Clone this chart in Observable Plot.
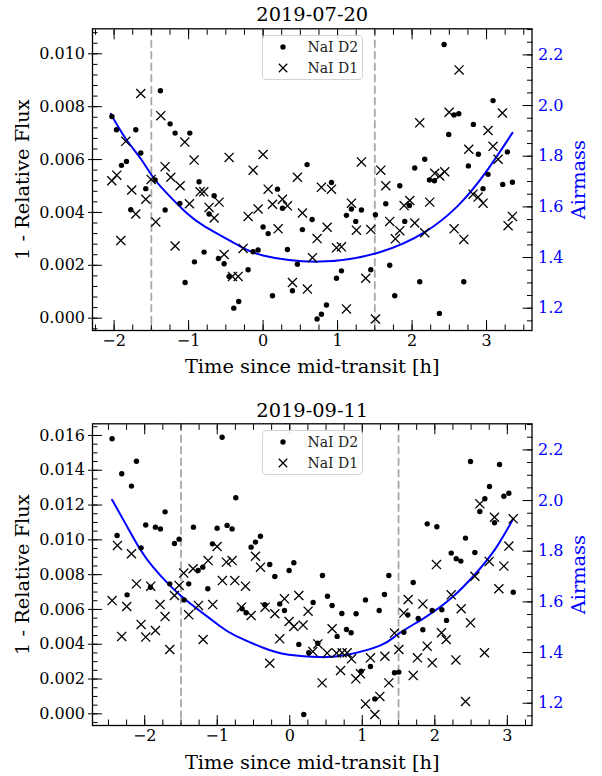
<!DOCTYPE html>
<html><head><meta charset="utf-8">
<script src="https://cdn.jsdelivr.net/npm/d3@7"></script>
<script src="https://cdn.jsdelivr.net/npm/@observablehq/plot@0.6"></script>
<style>
body{margin:0;background:#fff;}
#wrap{position:relative;width:602px;height:776px;font-family:"DejaVu Serif",serif;}
#wrap svg{display:block;}
#wrap svg, #wrap svg text{font-family:"DejaVu Serif",serif !important;}
.legend{position:absolute;background:rgba(255,255,255,0.85);border:1px solid #d4d4d4;border-radius:4px;box-sizing:border-box;}
.legend .row{position:absolute;left:0;height:20px;width:100%;}
.legend .lab{position:absolute;left:45px;top:0;font-family:"DejaVu Serif",serif;font-size:14px;line-height:20px;color:#222;white-space:nowrap;}
.legend svg{position:absolute;left:12px;top:3px;}
</style></head><body><div id="wrap"></div>
<script>
// ---------- Panel 1: 2019-07-20 ----------
const title1 = "2019-07-20";
const p1D2Time = [-2.03,-1.968,-1.901,-1.834,-1.776,-1.709,-1.642,-1.575,-1.449,-1.378,-1.315,-1.248,-1.181,-1.118,-1.047,-0.984,-0.921,-0.859,-0.792,-0.725,-0.657,-0.599,-0.523,-0.456,-0.393,-0.327,-0.201,-0.134,-0.067,0.0,0.068,0.126,0.193,0.26,0.327,0.394,0.461,0.528,0.591,0.658,0.725,0.783,0.851,0.918,0.985,1.052,1.119,1.186,1.244,1.32,1.446,1.508,1.647,1.7,1.767,1.835,1.902,1.964,2.036,2.103,2.17,2.233,2.3,2.367,2.43,2.492,2.564,2.627,2.694,2.756,2.823,2.89,2.953,3.02,3.087,3.217,3.28,3.347];
const p1D2Flux = [0.00763,0.00713,0.00578,0.00593,0.0041,0.00713,0.00625,0.0049,0.00523,0.0086,0.00409,0.00735,0.007,0.00434,0.00135,0.007,0.00213,0.00516,0.0025,0.00394,0.00463,0.00226,0.00206,0.00158,0.00038,0.00063,0.00183,0.00251,0.00258,0.00345,0.0032,0.00085,0.00488,0.00416,0.0026,0.00104,0.00204,0.00335,0.00581,0.00373,-0.00003,0.00015,0.0005,0.00513,0.00151,0.00179,0.00389,0.00413,0.00366,0.00409,0.00183,0.00391,0.00433,0.002,0.00085,0.00501,0.00366,0.00426,0.00568,0.00138,0.00601,0.00523,0.0052,0.00018,0.01035,0.00695,0.00769,0.00773,0.00138,0.00576,0.00733,0.0062,0.0049,0.00544,0.00823,0.00506,0.00629,0.00514];
const p1D1Time = [-2.031,-1.964,-1.91,-1.843,-1.763,-1.709,-1.642,-1.575,-1.503,-1.44,-1.373,-1.315,-1.239,-1.181,-1.114,-1.051,-0.989,-0.926,-0.845,-0.796,-0.725,-0.657,-0.59,-0.523,-0.456,-0.411,-0.335,-0.268,-0.201,-0.134,-0.067,0.0,0.068,0.126,0.202,0.26,0.327,0.394,0.461,0.528,0.595,0.663,0.725,0.783,0.86,0.918,0.985,1.052,1.119,1.186,1.253,1.32,1.378,1.446,1.508,1.58,1.647,1.7,1.776,1.835,1.893,1.969,2.036,2.103,2.17,2.237,2.304,2.371,2.438,2.497,2.564,2.631,2.694,2.761,2.819,2.886,2.953,3.02,3.087,3.155,3.213,3.289,3.347];
const p1D1Flux = [0.0052,0.00541,0.00294,0.00669,0.00485,0.00394,0.0085,0.0045,0.00525,0.00364,0.00766,0.00573,0.00533,0.00273,0.00501,0.00666,0.00433,0.00598,0.00478,0.00478,0.00419,0.00379,0.00439,0.00241,0.00608,0.00158,0.00158,0.00264,0.00385,0.0056,0.00413,0.00619,0.00488,0.00431,0.00338,0.0045,0.00425,0.00135,0.00533,0.00398,0.0011,0.00229,0.00301,0.00495,0.00344,0.00488,0.00266,0.0027,0.00035,0.00435,0.00333,0.00591,0.00151,0.00335,-0.00003,0.0056,0.00501,0.00366,0.003,0.00331,0.00426,0.00445,0.0036,0.00739,0.00323,0.00439,0.00548,0.00538,0.00554,0.00779,0.00338,0.00939,0.00298,0.00639,0.00469,0.00458,0.00435,0.0071,0.0065,0.00601,0.00776,0.0035,0.00385];
const p1AirTime = [-2.044,-1.843,-1.642,-1.494,-1.306,-1.038,-0.769,-0.367,0.0,0.761,1.566,2.17,2.618,2.976,3.347];
const p1Airmass = [1.967,1.869,1.79,1.724,1.658,1.579,1.52,1.454,1.408,1.384,1.421,1.5,1.605,1.731,1.892];

// ---------- Panel 2: 2019-09-11 ----------
const title2 = "2019-09-11";
const p2D2Time = [-2.45,-2.381,-2.317,-2.243,-2.183,-2.114,-2.05,-1.986,-1.921,-1.852,-1.783,-1.719,-1.655,-1.59,-1.526,-1.457,-1.393,-1.328,-1.264,-1.199,-1.13,-1.066,-1.002,-0.933,-0.864,-0.795,-0.744,-0.657,-0.602,-0.533,-0.473,-0.404,-0.344,-0.276,-0.206,-0.138,-0.073,-0.009,0.056,0.125,0.193,0.262,0.322,0.387,0.451,0.52,0.584,0.653,0.718,0.782,0.846,0.915,0.984,1.044,1.113,1.173,1.233,1.306,1.366,1.444,1.504,1.573,1.628,1.702,1.771,1.835,1.895,1.964,2.028,2.097,2.161,2.226,2.295,2.359,2.423,2.492,2.552,2.621,2.69,2.754,2.823,2.892,2.952,3.021,3.081];
const p2D2Flux = [0.01581,0.01025,0.0138,0.00684,0.01309,0.01452,0.00954,0.01085,0.00728,0.01073,0.01063,0.01161,0.00747,0.00979,0.01004,0.00655,0.00747,0.01073,0.00824,0.00843,0.00719,0.00977,0.01067,0.0159,0.01083,0.01063,0.01242,0.00604,0.00581,0.00958,0.00987,0.01021,0.00627,0.00858,0.00789,0.00632,0.00594,0.00824,0.00868,0.00399,-0.00004,0.00351,0.0064,0.00406,0.00795,0.00676,0.00623,0.00445,0.00577,0.00485,0.00466,0.00575,0.00245,0.00655,0.00272,0.00086,0.00594,0.00686,0.00795,0.00236,0.0024,0.00469,0.00569,0.00755,0.00548,0.00483,0.01092,0.00594,0.01075,0.00598,0.00537,0.00924,0.00891,0.00878,0.0101,0.0145,0.00927,0.01163,0.01236,0.01307,0.01098,0.01433,0.01251,0.01268,0.00699];
const p2D1Time = [-2.45,-2.376,-2.317,-2.248,-2.183,-2.114,-2.05,-1.986,-1.917,-1.852,-1.788,-1.719,-1.655,-1.59,-1.526,-1.462,-1.393,-1.333,-1.259,-1.195,-1.126,-1.062,-1.002,-0.929,-0.873,-0.795,-0.758,-0.666,-0.611,-0.533,-0.473,-0.404,-0.34,-0.276,-0.206,-0.138,-0.073,-0.009,0.056,0.125,0.184,0.253,0.318,0.387,0.446,0.515,0.584,0.644,0.7,0.722,0.791,0.851,0.911,0.975,1.044,1.113,1.173,1.242,1.311,1.366,1.444,1.504,1.573,1.633,1.702,1.761,1.835,1.895,1.964,2.023,2.092,2.157,2.226,2.29,2.364,2.423,2.492,2.552,2.621,2.685,2.75,2.823,2.883,2.952,3.021,3.081];
const p2D1Flux = [0.00651,0.00968,0.00445,0.00617,0.0092,0.00747,0.00514,0.00441,0.00734,0.00479,0.00628,0.00559,0.0037,0.0068,0.00738,0.00809,0.00569,0.00834,0.00623,0.00427,0.00881,0.00628,0.00962,0.00766,0.00872,0.00881,0.00766,0.00613,0.00734,0.00565,0.00906,0.00843,0.00613,0.00291,0.00575,0.00431,0.00661,0.00531,0.00502,0.0068,0.0051,0.0059,0.00358,0.00402,0.00178,0.00349,0.00489,0.00349,0.00249,0.00351,0.00351,0.00316,0.00201,0.0023,0.00057,0.00322,-0.00004,0.001,0.00331,0.00178,0.00464,0.0037,0.00579,0.00657,0.0022,0.00322,0.00632,0.00389,0.00293,0.00858,0.00466,0.00427,0.00684,0.0031,0.00604,0.00071,0.00523,0.00791,0.01207,0.00351,0.00876,0.0113,0.00719,0.00849,0.00964,0.01121];
const p2AirTime = [-2.45,-2.252,-2.068,-1.884,-1.655,-1.494,-1.333,-0.965,-0.744,-0.358,-0.013,0.423,0.791,1.251,1.5,1.872,2.24,2.561,2.837,3.081];
const p2Airmass = [2.003,1.902,1.81,1.737,1.665,1.622,1.585,1.505,1.466,1.418,1.391,1.382,1.391,1.428,1.474,1.54,1.618,1.711,1.81,1.928];

// shared labels / ticks
const transitEdges = [-1.5, 1.5];
const xTickValues = [-2, -1, 0, 1, 2, 3];
const p1FluxTicks = [0, 0.002, 0.004, 0.006, 0.008, 0.010];
const p2FluxTicks = [0, 0.002, 0.004, 0.006, 0.008, 0.010, 0.012, 0.014, 0.016];
const airTicks = [1.2, 1.4, 1.6, 1.8, 2.0, 2.2];
const seriesNames = ["NaI D2", "NaI D1"];
const xLabel = "Time since mid-transit [h]";
const yLabel = "1 - Relative Flux";
const y2Label = "Airmass";

const FONT = "DejaVu Serif";
const TICK_FS = 16;
const LABEL_FS = 19.4;
const fmtX = d => d < 0 ? "\u2212" + Math.abs(d) : String(d);

function makePanel(o) {
  const [L0, L1] = o.yDomain, [R0, R1] = o.amDomain;
  const am2y = a => L0 + (a - R0) * (L1 - L0) / (R1 - R0);
  const d2 = o.dt2.map((t, i) => ({t, f: o.df2[i]}));
  const d1 = o.dt1.map((t, i) => ({t, f: o.df1[i]}));
  const air = o.at.map((t, i) => ({t, a: o.am[i]}));
  const xMinor = d3.range(Math.ceil(o.xDomain[0] * 4) / 4, o.xDomain[1], 0.25);
  const yMinor = d3.range(Math.ceil(L0 / o.yMinorStep) * o.yMinorStep, L1, o.yMinorStep);
  const amMinor = d3.range(1.15, R1, 0.05);
  const tk = {stroke: "black", strokeWidth: 1, fill: "none", label: null};
  const tx = {tickSize: 0, stroke: "none", label: null, fontSize: TICK_FS, fontFamily: FONT};
  const lab = {text: d => d, fontSize: LABEL_FS, fontFamily: FONT, lineAnchor: "middle", textAnchor: "middle"};
  return Plot.plot({
    width: 602, height: o.height,
    marginLeft: 92, marginRight: 70.5, marginTop: o.marginTop, marginBottom: o.marginBottom,
    style: {fontFamily: FONT, fontSize: TICK_FS + "px", background: "white", color: "black"},
    x: {domain: o.xDomain, axis: null, inset: 0},
    y: {domain: o.yDomain, axis: null, inset: 0},
    marks: [
      Plot.ruleX(transitEdges, {x: d => d, stroke: "#a8a8a8", strokeWidth: 1.8, strokeDasharray: "8,3.5"}),
      Plot.line(air, {x: "t", y: d => am2y(d.a), stroke: "#0000ff", strokeWidth: 2, curve: "natural"}),
      Plot.dot(d2, {x: "t", y: "f", r: 2.7, fill: "black", stroke: null}),
      Plot.dot(d1, {x: "t", y: "f", symbol: "times", r: 4.2, stroke: "black", strokeWidth: 1.3}),
      // bottom ticks
      Plot.axisX({anchor: "bottom", ticks: xTickValues, tickSize: -10, ...tk}),
      Plot.axisX({anchor: "bottom", ticks: xMinor, tickSize: -5.5, ...tk}),
      Plot.axisX({anchor: "bottom", ticks: xTickValues, tickPadding: 4, tickFormat: fmtX, fill: "black", ...tx}),
      // top ticks
      Plot.axisX({anchor: "top", ticks: xTickValues, tickSize: -10, ...tk}),
      Plot.axisX({anchor: "top", ticks: xMinor, tickSize: -5.5, ...tk}),
      // left ticks
      Plot.axisY({anchor: "left", ticks: o.yTicks, tickSize: -10, ...tk}),
      Plot.axisY({anchor: "left", ticks: o.yTicks, tickSize: 4, ...tk}),
      Plot.axisY({anchor: "left", ticks: yMinor, tickSize: -5.5, ...tk}),
      Plot.axisY({anchor: "left", ticks: o.yTicks, tickPadding: 7.5, tickFormat: d3.format(".3f"), fill: "black", ...tx}),
      // right (airmass) ticks
      Plot.axisY({anchor: "right", ticks: airTicks.map(am2y), tickSize: -10, ...tk}),
      Plot.axisY({anchor: "right", ticks: amMinor.map(am2y), tickSize: -5.5, ...tk}),
      Plot.axisY({anchor: "right", ticks: airTicks.map(am2y), tickPadding: 6, tickFormat: d => d3.format(".1f")(R0 + (d - L0) * (R1 - R0) / (L1 - L0)), fill: "#0000ff", ...tx}),
      Plot.frame({stroke: "black", strokeWidth: 1.3}),
      // titles & labels
      Plot.text([o.title], {...lab, frameAnchor: "top", dy: o.titleDy, fill: "black"}),
      Plot.text([xLabel], {...lab, frameAnchor: "bottom", dy: o.xLabelDy, fill: "black"}),
      Plot.text([yLabel], {...lab, frameAnchor: "left", dx: -70, rotate: -90, fill: "black"}),
      Plot.text([y2Label], {...lab, frameAnchor: "right", dx: 47, rotate: -90, fill: "#0000ff"})
    ]
  });
}

function makeLegend(top) {
  const div = document.createElement("div");
  div.className = "legend";
  div.style.left = "261.5px"; div.style.top = top + "px";
  div.style.width = "101px"; div.style.height = "45px";
  const rows = [
    {name: seriesNames[0], y: 0.7, sym: '<circle cx="8" cy="7" r="2.7" fill="black"/>'},
    {name: seriesNames[1], y: 22, sym: '<path d="M3.8,2.8L12.2,11.2M3.8,11.2L12.2,2.8" stroke="black" stroke-width="1.3"/>'}
  ];
  for (const r of rows) {
    const row = document.createElement("div");
    row.className = "row"; row.style.top = r.y + "px";
    row.innerHTML = `<svg width="16" height="14">${r.sym}</svg><span class="lab">${r.name}</span>`;
    div.appendChild(row);
  }
  return div;
}

const wrap = document.getElementById("wrap");
wrap.appendChild(makePanel({
  title: title1, dt2: p1D2Time, df2: p1D2Flux, dt1: p1D1Time, df1: p1D1Flux, at: p1AirTime, am: p1Airmass,
  xDomain: [-2.29, 3.61], yDomain: [-0.000466, 0.010946], amDomain: [1.112, 2.303],
  yTicks: p1FluxTicks, yMinorStep: 0.0004,
  height: 390, marginTop: 28.3, marginBottom: 60, titleDy: -14.3, xLabelDy: 36
}));
wrap.appendChild(makePanel({
  title: title2, dt2: p2D2Time, df2: p2D2Flux, dt1: p2D1Time, df1: p2D1Flux, at: p2AirTime, am: p2Airmass,
  xDomain: [-2.72, 3.34], yDomain: [-0.00067, 0.01667], amDomain: [1.112, 2.303],
  yTicks: p2FluxTicks, yMinorStep: 0.0005,
  height: 386, marginTop: 33.3, marginBottom: 51, titleDy: -13.3, xLabelDy: 37
}));
wrap.appendChild(makeLegend(35));
wrap.appendChild(makeLegend(430));
</script></body></html>
